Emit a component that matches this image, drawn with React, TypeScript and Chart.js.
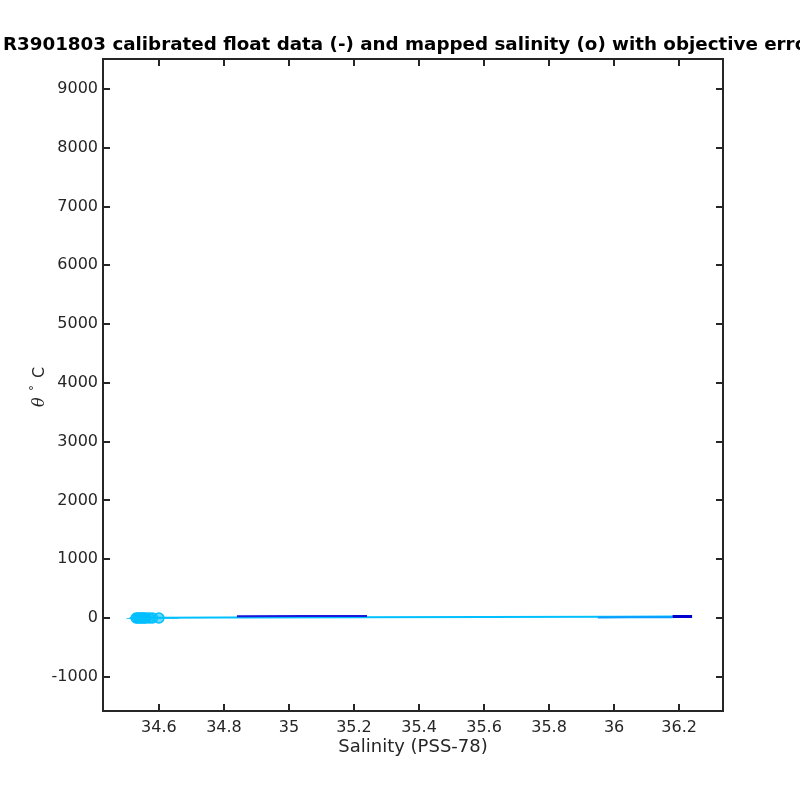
import React, { useEffect, useRef } from "react";
import { Chart, registerables } from "chart.js";

Chart.register(...registerables);

const titleText = "R3901803 calibrated float data (-) and mapped salinity (o) with objective errors";
const xTicks = [34.6, 34.8, 35, 35.2, 35.4, 35.6, 35.8, 36, 36.2];
const yTicks = [-1000, 0, 1000, 2000, 3000, 4000, 5000, 6000, 7000, 8000, 9000];

// float profiles (salinity, theta)
const cyanSal = [34.51, 34.6, 34.8, 35.2, 35.6, 36.0, 36.19];
const cyanTheta = [2, 4, 8, 14, 18, 22, 25];
const lightSal = [34.5, 34.6, 34.66];
const lightTheta = [-10, -8, -6];
const midSal = [35.95, 36.05, 36.18];
const midTheta = [10, 12, 14];
const darkEndSal = [36.18, 36.24];
const darkEndTheta = [26, 27];
const darkMidSal = [34.84, 35.05, 35.24];
const darkMidTheta = [32, 34, 36];

// mapped salinity points
const mapSal = [34.53, 34.535, 34.54, 34.545, 34.55, 34.555, 34.56, 34.57, 34.58, 34.6];
const mapTheta = [0, 0, 0, 0, 0, 0, 0, 0, 0, 0];

const ink = "#262626";

const pts = (xs: number[], ys: number[]) => xs.map((x, i) => ({ x, y: ys[i] }));

const axesPlugin = {
  id: "matlabAxes",
  afterDraw(chart: any) {
    const { ctx, chartArea: a, scales } = chart;
    const xs = scales.x;
    const ys = scales.y;
    ctx.save();
    ctx.strokeStyle = ink;
    ctx.lineWidth = 2;
    ctx.strokeRect(a.left, a.top, a.right - a.left, a.bottom - a.top);
    const tl = 7;
    ctx.beginPath();
    xTicks.forEach((v) => {
      const px = Math.round(xs.getPixelForValue(v));
      ctx.moveTo(px, a.bottom);
      ctx.lineTo(px, a.bottom - tl);
      ctx.moveTo(px, a.top);
      ctx.lineTo(px, a.top + tl);
    });
    yTicks.forEach((v) => {
      const py = Math.round(ys.getPixelForValue(v));
      ctx.moveTo(a.left, py);
      ctx.lineTo(a.left + tl, py);
      ctx.moveTo(a.right, py);
      ctx.lineTo(a.right - tl, py);
    });
    ctx.stroke();

    // title
    ctx.fillStyle = "#000";
    ctx.font = "bold 18.3px 'DejaVu Sans'";
    ctx.textAlign = "center";
    ctx.textBaseline = "middle";
    ctx.fillText(titleText, 415, 45);

    // x label
    ctx.fillStyle = ink;
    ctx.font = "18px 'DejaVu Sans'";
    ctx.fillText("Salinity (PSS-78)", (a.left + a.right) / 2, 747);

    // y label
    ctx.textBaseline = "alphabetic";
    ctx.translate(44, 387);
    ctx.rotate(-Math.PI / 2);
    ctx.textAlign = "left";
    ctx.font = "italic 16px 'DejaVu Serif'";
    ctx.fillText("\u03B8", -20, 0);
    ctx.font = "12px 'DejaVu Sans'";
    ctx.fillText("\u00B0", -4, -6);
    ctx.font = "16px 'DejaVu Sans'";
    ctx.fillText("C", 9, 0);
    ctx.restore();
  },
};

export default function App() {
  const ref = useRef<HTMLCanvasElement>(null);
  useEffect(() => {
    if (!ref.current) return;
    const line = (data: any[], color: string, w = 2) => ({
      type: "line",
      data,
      borderColor: color,
      backgroundColor: color,
      borderWidth: w,
      pointRadius: 0,
      showLine: true,
      tension: 0,
    });
    const chart = new Chart(ref.current, {
      type: "scatter",
      data: {
        datasets: [
          line(pts(darkMidSal, darkMidTheta), "#1a1adc", 2),
          line(pts(darkEndSal, darkEndTheta), "#0000cd", 3),
          line(pts(midSal, midTheta), "#0a9cff", 2),
          line(pts(cyanSal, cyanTheta), "#00c0ff", 2),
          line(pts(lightSal, lightTheta), "#33ccff", 1),
          {
            type: "scatter",
            data: pts(mapSal, mapTheta),
            borderColor: "#00bfff",
            backgroundColor: "rgba(0,191,255,0.6)",
            pointRadius: 5,
            borderWidth: 1.5,
          } as any,
        ] as any,
      },
      options: {
        animation: false,
        responsive: false,
        layout: { padding: { left: 0, right: 77, top: 59, bottom: 0 } },
        plugins: { legend: { display: false }, title: { display: false }, tooltip: { enabled: false } },
        scales: {
          x: {
            type: "linear",
            min: 34.428,
            max: 36.335,
            grid: { display: false, drawTicks: false },
            border: { display: false },
            afterBuildTicks: (s: any) => {
              s.ticks = xTicks.map((v) => ({ value: v }));
            },
            afterFit: (s: any) => {
              s.height = 89;
            },
            ticks: {
              color: ink,
              font: { family: "DejaVu Sans", size: 16 },
              padding: 7,
              maxRotation: 0,
              autoSkip: false,
              callback: (v: any) => String(Math.round(Number(v) * 10) / 10),
            },
          },
          y: {
            type: "linear",
            min: -1582,
            max: 9510,
            grid: { display: false, drawTicks: false },
            border: { display: false },
            afterBuildTicks: (s: any) => {
              s.ticks = yTicks.map((v) => ({ value: v }));
            },
            afterFit: (s: any) => {
              s.width = 103;
            },
            ticks: {
              color: ink,
              font: { family: "DejaVu Sans", size: 16 },
              padding: 5,
              autoSkip: false,
              callback: (v: any) => String(v),
            },
          },
        },
      } as any,
      plugins: [axesPlugin],
    });
    return () => chart.destroy();
  }, []);
  return (
    <div style={{ position: "fixed", left: 0, top: 0, width: 800, height: 800, background: "#fff" }}>
      <canvas ref={ref} width={800} height={800} />
    </div>
  );
}
